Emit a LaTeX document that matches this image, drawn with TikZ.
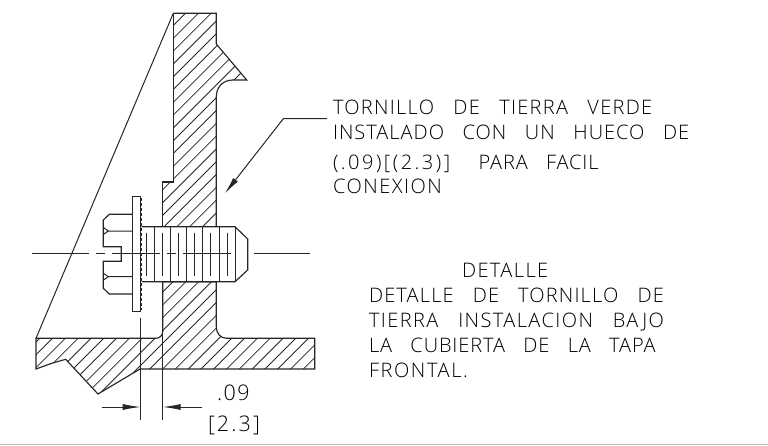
\documentclass[tikz,border=0pt]{standalone}
\usepackage{fontspec}
\setmainfont{Liberation Sans}
\usetikzlibrary{arrows.meta}
\newfontfamily\cadfont[LetterSpace=4.5,WordSpace=3.0,UprightFont=* Light]{Open Sans}
\newcommand{\lsp}[1]{\addfontfeature{LetterSpace=#1}}
\tikzset{
  outline/.style={draw=black!85,line width=1.15pt,line join=miter},
  thin part/.style={draw=black!85,line width=1pt},
  hatchline/.style={draw=black!85,line width=0.8pt},
  label/.style={anchor=base west,inner sep=0pt,outer sep=0pt,font=\cadfont\fontsize{20}{20}\selectfont,text=black},
  dimlabel/.style={label,font=\cadfont\fontsize{21.5}{21.5}\selectfont},
  dimtip/.style={-{Latex[length=18pt,width=6pt]},draw=black!85,line width=1pt},
  leadertip/.style={-{Latex[length=17pt,width=6pt]},draw=black!85,line width=1pt}
}
\def\platepath{(173.3,13.3) -- (216.3,13.3) -- (216.3,44) -- (246.7,80) -- (233,80) .. controls (222,80) and (216.3,88) .. (216.3,96.7) -- (216.3,226.7) -- (162.7,226.7) -- (162.7,182) -- (173.3,182) -- cycle}
\def\flangepath{(162.7,281.7) -- (216.3,281.7) -- (216.3,326.7) .. controls (216.3,333) and (220,338.3) .. (226.7,338.3) -- (314.7,338.3) -- (314.7,369) -- (140,369) -- (98,394) -- (65.7,359.3) -- (51.7,363.3) -- (36,369) -- (36,338.3) -- (156,338.3) .. controls (160,338.3) and (162.7,335) .. (162.7,331.7) -- cycle}
\begin{document}
\begin{tikzpicture}[x=1pt,y=-1pt]
\useasboundingbox (0,0) rectangle (768,445);
\fill[white] (0,0) rectangle (768,445);
\draw[black!25,line width=1pt] (0,444.5) -- (768,444.5);
% hatching
\begin{scope}
  \clip \platepath \flangepath;
  \foreach \k in {-12,...,42} {
    \pgfmathsetmacro{\c}{211.6+12.8*\k}
    \draw[hatchline] (0,\c) -- (\c,0);
  }
\end{scope}
% body outlines
\draw[outline] (173.3,13.3) -- (216.3,13.3) -- (216.3,44) -- (246.7,80) -- (233,80) .. controls (222,80) and (216.3,88) .. (216.3,96.7) -- (216.3,226.7);
\draw[outline] (173.3,13.3) -- (173.3,182) -- (162.7,182) -- (162.7,226.7);
\draw[outline] \flangepath;
\draw[thin part] (173.3,13.3) -- (36,338.3);
% washer
\draw[outline] (132.7,196.7) rectangle (140.7,311.3);
\draw[thin part,densely dashed] (141.8,198) -- (141.8,310);
% head
\draw[outline] (132.7,214.3) -- (109.3,214.3) -- (103.3,220) -- (103.3,246.7) -- (121.3,246.7) -- (121.3,261.3) -- (103.3,261.3) -- (103.3,288.3) -- (109.3,294) -- (132.7,294);
\draw[thin part] (132.7,231) -- (108.3,231) -- (103.3,227.5);
\draw[thin part] (108.3,231) -- (103.3,234.5);
\draw[thin part] (132.7,276.7) -- (108.3,276.7) -- (103.3,273.2);
\draw[thin part] (108.3,276.7) -- (103.3,280.2);
% bolt
\draw[outline] (141.7,226.7) -- (235,226.7) -- (247.7,239) -- (247.7,270) -- (235,281.7) -- (141.7,281.7);
\foreach \x in {154.7,170.7,186.7,202.7,219,235} \draw[thin part] (\x,226.7) -- (\x,281.7);
\foreach \x in {146.7,162.3,178.3,194.3,210.7,227} \draw[thin part] (\x,232.7) -- (\x,276);
% centre line
\foreach \a/\b in {32.3/89,96/105,112/160,167/176,183/231,254/310} \draw[thin part] (\a,253.7) -- (\b,253.7);
% dimension
\coordinate (extA) at (140.7,317.7);
\coordinate (extAend) at (140.7,420);
\coordinate (extB) at (162.7,331.7);
\coordinate (extBend) at (162.7,420);
\draw[thin part] (extA) -- (extAend);
\draw[thin part] (extB) -- (extBend);
\coordinate (arrA) at (102.3,407);
\coordinate (arrAtip) at (140.7,407);
\coordinate (arrB) at (201.7,407);
\coordinate (arrBtip) at (162.7,407);
\draw[dimtip] (arrA) -- (arrAtip);
\draw[dimtip] (arrB) -- (arrBtip);
% leader
\coordinate (ldA) at (327,118.7);
\coordinate (ldB) at (283.3,118.7);
\coordinate (ldC) at (225,193.3);
\draw[leadertip] (ldA) -- (ldB) -- (ldC);
% labels
\node[dimlabel] (dimA) at (217,400) {\lsp{7}.09};
\node[dimlabel] (dimB) at (208,431.7) {\lsp{10}[2.3]};
\node[label] (t1) at (333,114.5) {\lsp{6.4}TORNILLO DE TIERRA VERDE};
\node[label] (t2) at (333,139.5) {\lsp{5}INSTALADO CON UN HUECO DE};
\node[label] (t3) at (333,169) {{\lsp{12.5}(.09)[(2.3)]}\hspace{10pt} PARA FACIL};
\node[label] (t4) at (333,193.5) {\lsp{7.6}CONEXION};
\node[label] (d0) at (462,277) {\lsp{7}DETALLE};
\node[label] (d1) at (369,302) {\lsp{5.8}DETALLE DE TORNILLO DE};
\node[label] (d2) at (369,327) {\lsp{7.1}TIERRA INSTALACION BAJO};
\node[label] (d3) at (369,352) {LA CUBIERTA DE LA TAPA};
\node[label] (d4) at (369,377) {\lsp{8}FRONTAL.};
\end{tikzpicture}
\end{document}
